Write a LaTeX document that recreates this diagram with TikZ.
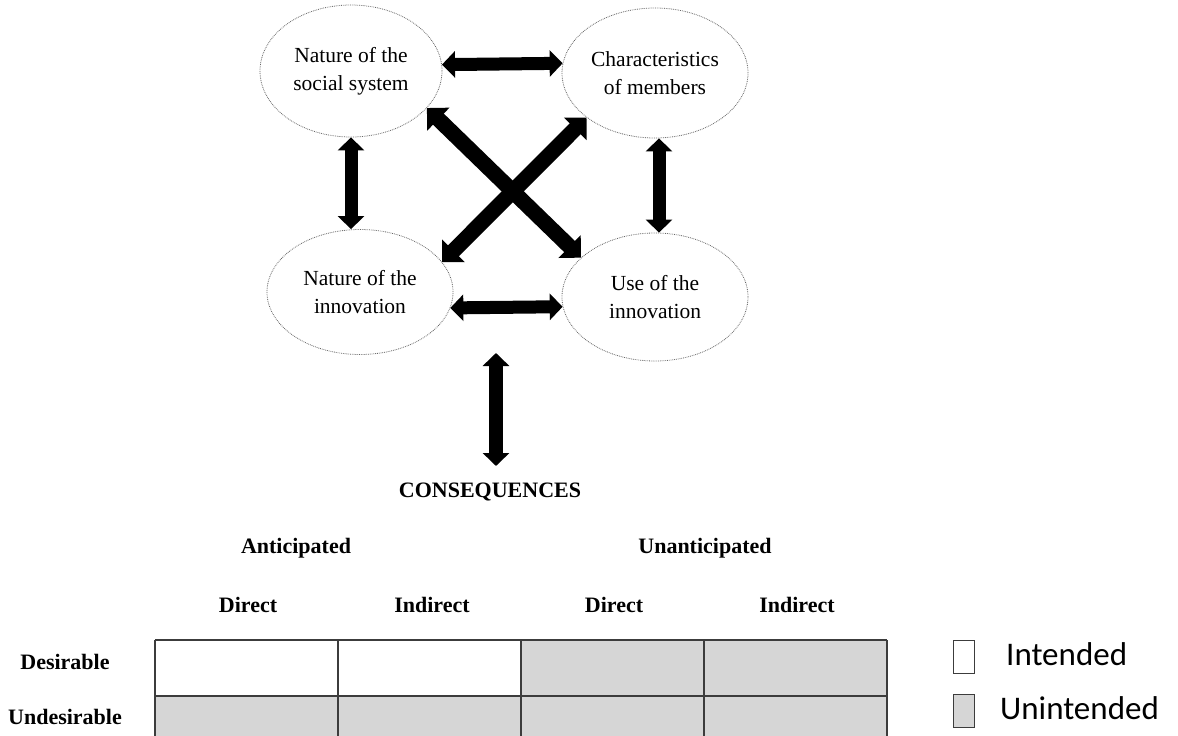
\documentclass[tikz,border=0pt]{standalone}
\usepackage{fontspec}
\setmainfont{Liberation Serif}
\newfontfamily\legendfont{Carlito}
\usetikzlibrary{shapes.geometric,arrows.meta}

\definecolor{cellgray}{HTML}{D6D6D6}
\definecolor{gridline}{HTML}{3C3C3C}

\tikzset{
  factor/.style={ellipse, draw=black!60, densely dotted, line width=0.8pt,
    inner sep=0pt, align=center, font=\fontsize{21.5}{28}\selectfont},
  link/.style={line width=13pt, {Triangle[width=26pt,length=13pt]}-{Triangle[width=26pt,length=13pt]}},
  crosslink/.style={line width=15.5pt, {Triangle[width=31pt,length=16pt]}-{Triangle[width=31pt,length=16pt]}},
  bigtext/.style={font=\fontsize{22}{26}\selectfont\bfseries, inner sep=0pt},
  cell/.style={fill=cellgray},
  keybox/.style={draw=gridline, line width=1pt, minimum width=21pt, minimum height=33pt, inner sep=0pt},
  keytext/.style={font=\legendfont\fontsize{33}{36}\selectfont, inner sep=0pt, anchor=west}
}

\begin{document}
\begin{tikzpicture}[x=1pt,y=-1pt]
\useasboundingbox (0,0) rectangle (1178,736);

% four interacting factors
\node[factor, minimum width=182pt, minimum height=132pt] (soc) at (351,71) {Nature of the\\social system};
\node[factor, minimum width=186pt, minimum height=130pt] (mem) at (655,73) {Characteristics\\of members};
\node[factor, minimum width=186pt, minimum height=125pt] (nat) at (360,292) {Nature of the\\innovation};
\node[factor, minimum width=186pt, minimum height=128pt] (use) at (655,297) {Use of the\\innovation};

% relations between factors
\draw[link] (soc.4) -- (mem.174);
\draw[link] (nat.-10) -- (use.186);
\draw[link] (soc.south) -- (soc.south |- nat.north);
\draw[link] ([xshift=4pt]mem.south) -- ([xshift=4pt]mem.south |- use.north);
\draw[crosslink] (soc.-26) -- (use.152);
\draw[crosslink] (nat.20) -- (mem.213);

% link to the consequences
\coordinate (ctop) at (496,353);
\coordinate (cbot) at (496,466);
\draw[line width=14pt, {Triangle[width=26pt,length=13pt]}-{Triangle[width=26pt,length=13pt]}] (ctop) -- (cbot);

\node[bigtext] (cons) at (490,492) {CONSEQUENCES};
\node[bigtext] (ant) at (296,548) {Anticipated};
\node[bigtext] (unant) at (705,548) {Unanticipated};
\node[bigtext] (d1) at (248,605) {Direct};
\node[bigtext] (i1) at (432,605) {Indirect};
\node[bigtext] (d2) at (614,605) {Direct};
\node[bigtext] (i2) at (797,605) {Indirect};
\node[bigtext] (des) at (65,662) {Desirable};
\node[bigtext] (undes) at (65,717) {Undesirable};

% classification grid
\fill[cell] (521,640) rectangle (887,696);
\fill[cell] (155,696) rectangle (887,736);
\draw[gridline, line width=1.5pt] (155,640) -- (887,640);
\draw[gridline, line width=1.5pt] (155,696) -- (887,696);
\foreach \x in {155,338,521,704,887}
  \draw[gridline, line width=1.2pt] (\x,640) -- (\x,736);

% key
\node[keybox, fill=white] (kin) at (963.5,656.5) {};
\node[keybox, fill=cellgray] (kun) at (963.5,711) {};
\node[keytext] (tin) at (1006,654) {Intended};
\node[keytext] (tun) at (1000,708) {Unintended};
\end{tikzpicture}
\end{document}
